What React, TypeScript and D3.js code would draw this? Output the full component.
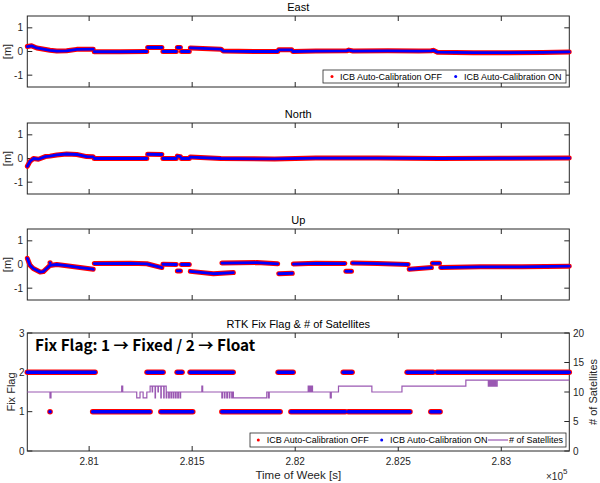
import React from 'react';
import * as d3 from 'd3';

type Pt = [number, number];

const xDomain: Pt = [280700, 283330];
const xTicks = [281000, 281500, 282000, 282500, 283000];
const xTickLabels = ['2.81', '2.815', '2.82', '2.825', '2.83'];
const yTicksM = [-1, 0, 1];
const flagTicks = [0, 1, 2, 3];
const satTicks = [0, 5, 10, 15, 20];
const panelTitles = ['East', 'North', 'Up', 'RTK Fix Flag & # of Satellites'];
const seriesNames = ['ICB Auto-Calibration OFF', 'ICB Auto-Calibration ON', '# of Satellites'];
const annotation = 'Fix Flag: 1 → Fixed / 2 → Float';

const eastSegments: Pt[][] = [
  [[280700, 0.21], [280721, 0.24], [280746, 0.15], [280810, 0.05], [280843, 0.02], [280891, 0.03], [280940, 0.09], [281020, 0.1]],
  [[281025, -0.01], [281150, -0.01], [281280, 0.0]],
  [[281284, 0.17], [281353, 0.17]],
  [[281358, 0.0], [281423, 0.0]],
  [[281428, 0.17], [281443, 0.17]],
  [[281448, 0.0], [281486, 0.0]],
  [[281491, 0.15], [281640, 0.1], [281650, 0.02], [281800, 0.0], [281915, 0.0]],
  [[281920, 0.07], [281983, 0.07]],
  [[281988, 0.0], [282100, 0.02], [282250, 0.03], [282260, 0.06], [282280, 0.02], [282450, 0.03], [282600, 0.02], [282660, 0.03], [282670, 0.05], [282690, -0.03], [282865, -0.05], [283000, -0.05], [283200, -0.04], [283330, -0.02]],
];

const northSegments: Pt[][] = [
  [[280700, -0.33], [280713, -0.12], [280730, 0.0], [280754, -0.03], [280787, 0.08], [280810, 0.1], [280843, 0.15], [280891, 0.19], [280940, 0.17], [280988, 0.08], [281020, 0.07]],
  [[281025, 0.0], [281280, 0.0]],
  [[281284, 0.18], [281353, 0.17]],
  [[281358, 0.0], [281423, 0.0]],
  [[281428, 0.1], [281443, 0.08]],
  [[281448, 0.0], [281486, 0.0]],
  [[281491, 0.06], [281640, 0.0], [281900, -0.02], [282100, 0.02], [282400, 0.02], [282700, 0.0], [283000, 0.01], [283330, 0.02]],
];

const upSegments: Pt[][] = [
  [[280700, 0.26], [280713, -0.03], [280729, -0.17], [280762, -0.32], [280778, -0.3], [280794, -0.17], [280810, -0.04], [280843, 0.0], [280891, -0.05], [280956, -0.13], [281020, -0.2]],
  [[280810, 0.07], [280811, 0.07]],
  [[281025, 0.04], [281200, 0.05], [281280, 0.03], [281353, -0.13]],
  [[281358, 0.01], [281423, 0.0]],
  [[281428, -0.27], [281443, -0.27]],
  [[281448, 0.0], [281486, 0.0]],
  [[281491, -0.29], [281603, -0.39], [281700, -0.34]],
  [[281644, 0.06], [281814, 0.08], [281915, 0.03]],
  [[281920, -0.39], [281986, -0.37]],
  [[281991, 0.02], [282100, 0.05], [282241, 0.04]],
  [[282246, -0.29], [282273, -0.29]],
  [[282278, 0.06], [282400, 0.04], [282548, 0.0]],
  [[282553, -0.2], [282661, -0.13]],
  [[282666, 0.05], [282700, 0.05]],
  [[282706, -0.13], [282900, -0.1], [283100, -0.1], [283330, -0.07]],
];

// [start, end] time runs for each fix flag value
const fixFlag2Runs: Pt[] = [
  [280700, 281029], [281281, 281359], [281427, 281451], [281490, 281699],
  [281917, 281990], [282233, 282276], [282543, 282669], [282688, 283330],
];
const fixFlag1Runs: Pt[] = [
  [280810, 280810], [281017, 281296], [281348, 281503], [281644, 281927],
  [281979, 282243], [282257, 282557], [282658, 282703],
];

// [time, count] step changes of satellites
const satChanges: Pt[] = [
  [280700, 10], [280810, 9], [280815, 10],
  [281158, 11], [281163, 10],
  [281231, 9], [281247, 10], [281262, 9], [281280, 10],
  [281296, 11], [281306, 10], [281308, 11], [281320, 9], [281322, 11], [281334, 10], [281336, 11], [281348, 9], [281350, 11], [281362, 9], [281364, 11], [281374, 9],
  [281377, 10], [281386, 9], [281389, 10], [281397, 9], [281400, 10], [281408, 9], [281411, 10], [281419, 9], [281422, 10], [281430, 9], [281433, 10], [281441, 9], [281444, 10],
  [281547, 11], [281551, 10],
  [281644, 9], [281647, 10], [281656, 9], [281659, 10], [281668, 9], [281671, 10], [281680, 9], [281683, 10], [281692, 9], [281695, 10], [281700, 9],
  [281862, 10], [281870, 9], [281874, 10],
  [282063, 11], [282066, 10], [282069, 11], [282072, 10], [282075, 11], [282078, 10], [282081, 11], [282084, 10],
  [282170, 9], [282175, 10],
  [282210, 11],
  [282372, 10],
  [282518, 11],
  [282828, 12],
  [282937, 11], [282940, 12], [282943, 11], [282946, 12], [282950, 11], [282954, 12], [282958, 11], [282962, 12], [282966, 11], [282970, 12], [282974, 11], [282980, 12],
  [283330, 12],
];

const FONT = 'Liberation Sans, Arial, sans-serif';
const AX = '#262626';
const RED = '#ff0000';
const BLUE = '#0000ff';
const PURPLE = '#9a58b2';

const L = 27.3;
const R = 569.3;
const enuPanels = [
  { top: 16, h: 71 },
  { top: 123, h: 71 },
  { top: 229, h: 71 },
];
const p4 = { top: 333, h: 118 };

const x = d3.scaleLinear().domain(xDomain).range([L, R]);

function Frame({ top, h }: { top: number; h: number }) {
  return (
    <g>
      <rect x={L} y={top} width={R - L} height={h} fill="white" stroke={AX} strokeWidth={1} />
      {xTicks.map((t) => (
        <g key={t}>
          <line x1={x(t)} x2={x(t)} y1={top} y2={top + 5} stroke={AX} strokeWidth={1} />
          <line x1={x(t)} x2={x(t)} y1={top + h} y2={top + h - 5} stroke={AX} strokeWidth={1} />
        </g>
      ))}
    </g>
  );
}

function EnuPanel({ idx, segments, legend }: { idx: number; segments: Pt[][]; legend: boolean }) {
  const { top, h } = enuPanels[idx];
  const y = d3.scaleLinear().domain([-1.5, 1.5]).range([top + h, top]);
  const line = d3.line<Pt>().x((d) => x(d[0])).y((d) => y(d[1]));
  return (
    <g>
      <Frame top={top} h={h} />
      {yTicksM.map((t) => (
        <g key={t}>
          <line x1={L} x2={L + 5} y1={y(t)} y2={y(t)} stroke={AX} />
          <line x1={R} x2={R - 5} y1={y(t)} y2={y(t)} stroke={AX} />
          <text x={23} y={y(t)} dy="0.35em" textAnchor="end" fontSize={10} fill={AX} fontFamily={FONT}>{t}</text>
        </g>
      ))}
      <text x={(L + R) / 2} y={top - 5} textAnchor="middle" fontSize={11} fill="#000" fontFamily={FONT}>{panelTitles[idx]}</text>
      <text transform={`translate(11,${top + h / 2}) rotate(-90)`} textAnchor="middle" fontSize={11} fill={AX} fontFamily={FONT}>[m]</text>
      <g clipPath={`url(#clip${idx})`}>
        {segments.map((s, i) => (
          <path key={'r' + i} d={line(s) || ''} fill="none" stroke={RED} strokeWidth={5} strokeLinecap="round" strokeLinejoin="round" />
        ))}
        {segments.map((s, i) => (
          <path key={'b' + i} d={line(s) || ''} fill="none" stroke={BLUE} strokeWidth={2.8} strokeLinecap="round" strokeLinejoin="round" />
        ))}
      </g>
      <defs>
        <clipPath id={`clip${idx}`}>
          <rect x={L - 3} y={top} width={R - L + 6} height={h} />
        </clipPath>
      </defs>
      {legend && (
        <g fontFamily={FONT} fontSize={9} fill="#000">
          <rect x={323} y={70} width={243} height={13} fill="white" stroke={AX} strokeWidth={0.8} />
          <circle cx={332} cy={76.5} r={1.5} fill={RED} />
          <text x={340} y={76.5} dy="0.35em">{seriesNames[0]}</text>
          <circle cx={455.7} cy={76.5} r={1.5} fill={BLUE} />
          <text x={464} y={76.5} dy="0.35em">{seriesNames[1]}</text>
        </g>
      )}
    </g>
  );
}

function FixPanel() {
  const { top, h } = p4;
  const yl = d3.scaleLinear().domain([0, 3]).range([top + h, top]);
  const yr = d3.scaleLinear().domain([0, 20]).range([top + h, top]);
  const runLine = d3.line<Pt>().x((d) => x(d[0])).y((d) => d[1]);
  const satLine = d3.line<Pt>().x((d) => x(d[0])).y((d) => yr(d[1])).curve(d3.curveStepAfter);
  const runs: { r: Pt; v: number }[] = [
    ...fixFlag2Runs.map((r) => ({ r, v: 2 })),
    ...fixFlag1Runs.map((r) => ({ r, v: 1 })),
  ];
  const runPath = (r: Pt, v: number) =>
    runLine([[r[0], yl(v)], [r[1] === r[0] ? r[1] + 0.5 : r[1], yl(v)]]) || '';
  const midY = top + h / 2;
  return (
    <g>
      <Frame top={top} h={h} />
      {flagTicks.map((t) => (
        <g key={t}>
          <line x1={L} x2={L + 5} y1={yl(t)} y2={yl(t)} stroke={AX} />
          <text x={24.5} y={yl(t)} dy="0.35em" textAnchor="end" fontSize={10} fill={AX} fontFamily={FONT}>{t}</text>
        </g>
      ))}
      {satTicks.map((t) => (
        <g key={t}>
          <line x1={R} x2={R - 5} y1={yr(t)} y2={yr(t)} stroke={AX} />
          <text x={573} y={yr(t)} dy="0.35em" textAnchor="start" fontSize={10} fill={AX} fontFamily={FONT}>{t}</text>
        </g>
      ))}
      <text x={(L + R) / 2} y={top - 5} textAnchor="middle" fontSize={11} fill="#000" fontFamily={FONT}>{panelTitles[3]}</text>
      <text transform={`translate(15,${midY}) rotate(-90)`} textAnchor="middle" fontSize={11} fill={AX} fontFamily={FONT}>Fix Flag</text>
      <text transform={`translate(597,${midY}) rotate(-90)`} textAnchor="middle" fontSize={11} fill={AX} fontFamily={FONT}># of Satellites</text>
      <path d={satLine(satChanges) || ''} fill="none" stroke={PURPLE} strokeWidth={1.2} />
      {runs.map(({ r, v }, i) => (
        <path key={'r' + i} d={runPath(r, v)} fill="none" stroke={RED} strokeWidth={5.5} strokeLinecap="round" />
      ))}
      {runs.map(({ r, v }, i) => (
        <path key={'b' + i} d={runPath(r, v)} fill="none" stroke={BLUE} strokeWidth={3.5} strokeLinecap="round" />
      ))}
      <text x={35} y={350.5} fontSize={15.3} fontWeight="bold" fontFamily="Noto Sans CJK KR, Noto Sans, sans-serif" fill="#000">
        {annotation}
      </text>
      {xTicks.map((t, i) => (
        <text key={t} x={x(t)} y={465} textAnchor="middle" fontSize={10} fill={AX} fontFamily={FONT}>{xTickLabels[i]}</text>
      ))}
      <text x={(L + R) / 2} y={479} textAnchor="middle" fontSize={11.5} fill={AX} fontFamily={FONT}>Time of Week [s]</text>
      <text x={546} y={480} fontSize={10} fill={AX} fontFamily={FONT}>×10<tspan dy={-6} fontSize={8}>5</tspan></text>
      <g fontFamily={FONT} fontSize={9} fill="#000">
        <rect x={250} y={433} width={316} height={14} fill="white" stroke={AX} strokeWidth={0.8} />
        <circle cx={258.3} cy={440} r={1.5} fill={RED} />
        <text x={266.7} y={440} dy="0.35em">{seriesNames[0]}</text>
        <circle cx={381.7} cy={440} r={1.5} fill={BLUE} />
        <text x={390} y={440} dy="0.35em">{seriesNames[1]}</text>
        <line x1={488} x2={508} y1={440} y2={440} stroke={PURPLE} strokeWidth={1.2} />
        <text x={509} y={440} dy="0.35em">{seriesNames[2]}</text>
      </g>
    </g>
  );
}

export default function App() {
  return (
    <svg width={600} height={483} style={{ display: 'block', position: 'absolute', left: 0, top: 0, background: 'white' }}>
      <rect width={600} height={483} fill="white" />
      <EnuPanel idx={0} segments={eastSegments} legend={true} />
      <EnuPanel idx={1} segments={northSegments} legend={false} />
      <EnuPanel idx={2} segments={upSegments} legend={false} />
      <FixPanel />
    </svg>
  );
}
